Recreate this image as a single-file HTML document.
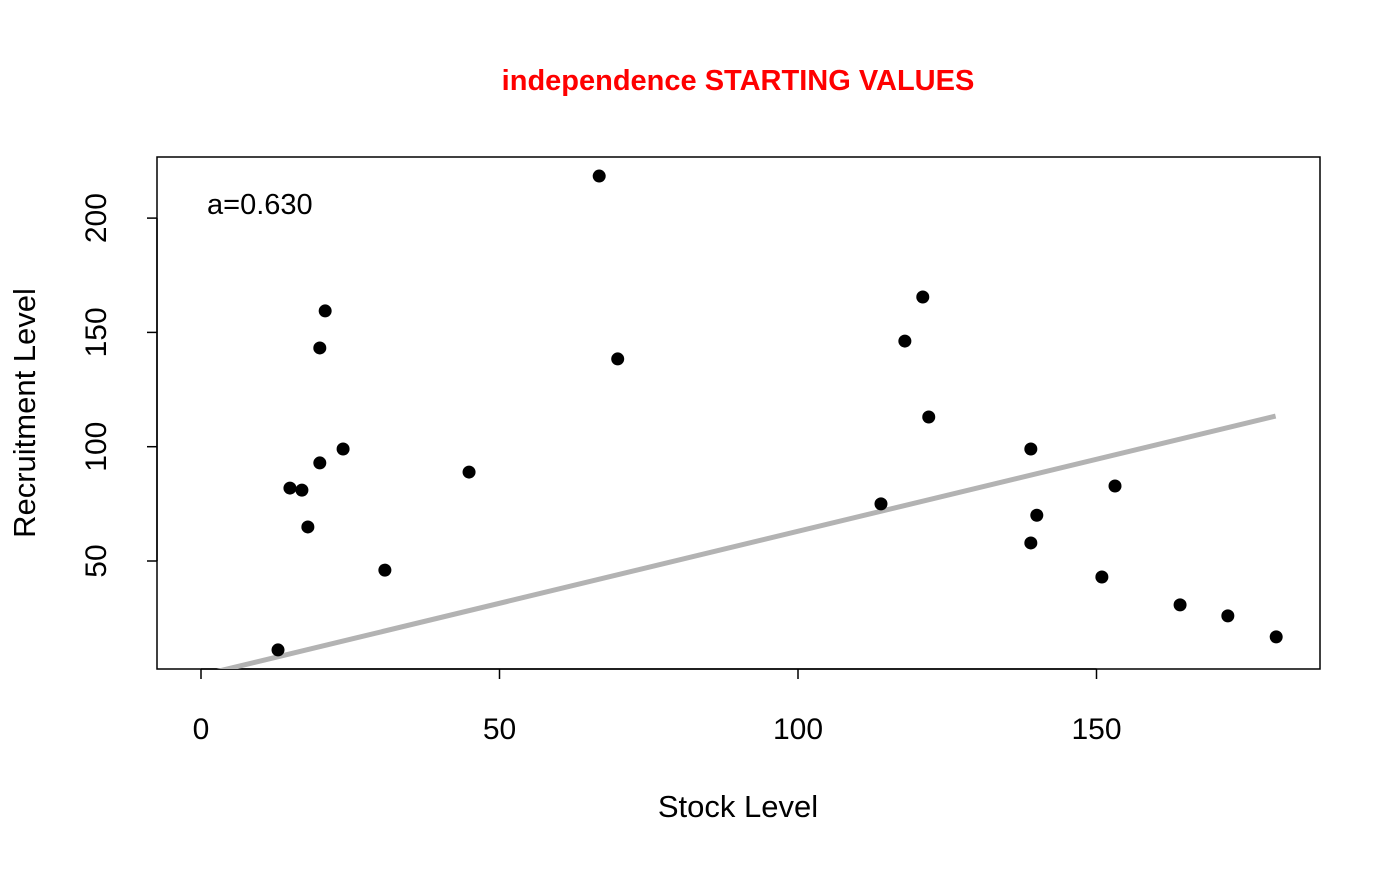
<!DOCTYPE html>
<html><head><meta charset="utf-8"><style>
body{margin:0;background:#fff}
svg text{font-family:"Liberation Sans",Arial,sans-serif}
</style></head><body>
<svg id="chart" width="1400" height="866" xmlns="http://www.w3.org/2000/svg">
<defs><clipPath id="clip"><rect x="157" y="157" width="1163" height="512"/></clipPath></defs>
<text x="738" y="90" text-anchor="middle" font-size="29" font-weight="bold" fill="#ff0000">independence STARTING VALUES</text>
<rect x="157" y="157" width="1163" height="512" fill="none" stroke="#000" stroke-width="1.5"/>
<text x="207" y="214" font-size="29">a=0.630</text>
<text x="738" y="817" text-anchor="middle" font-size="31">Stock Level</text>
<text transform="translate(35,413) rotate(-90)" text-anchor="middle" font-size="31">Recruitment Level</text>
<g id="xaxis"></g>
<g id="yaxis"></g>
<g id="fit" clip-path="url(#clip)"></g>
<g id="pts"></g>
</svg>
<script>
const stock=[12.9,14.9,16.9,17.9,19.9,19.9,20.8,23.8,30.8,44.9,66.7,69.8,113.9,117.9,120.9,121.9,139,139,140,150.9,153.1,164,172,180.1];
const recruit=[11.1,81.9,81,64.9,92.9,143.2,159.4,99,46,88.9,218.4,138.4,75,146.2,165.5,113,99,57.9,70,43,82.8,30.8,26,16.8];
const xTicks=[0,50,100,150];
const yTicks=[50,100,150,200];
const slopeA=0.63;
const fitRange=[0,180];
const NS="http://www.w3.org/2000/svg";
const X=v=>201+v*5.97;
const Y=v=>561-(v-50)*2.286;
function mk(t,a,p){const e=document.createElementNS(NS,t);for(const k in a)e.setAttribute(k,a[k]);p.appendChild(e);return e;}
const xa=document.getElementById('xaxis'),ya=document.getElementById('yaxis');
mk('line',{x1:X(xTicks[0]),x2:X(xTicks[xTicks.length-1]),y1:669,y2:669,stroke:'#000','stroke-width':1.5},xa);
xTicks.forEach(t=>{
 const l=mk('line',{x1:X(t),x2:X(t),y1:669,y2:679,stroke:'#000','stroke-width':1.5},xa);
 
 
 const tx=mk('text',{x:X(t),y:739,'text-anchor':'middle','font-size':30},xa);tx.textContent=t;
 
 
});
mk('line',{x1:157,x2:157,y1:Y(yTicks[0]),y2:Y(yTicks[yTicks.length-1]),stroke:'#000','stroke-width':1.5},ya);
yTicks.forEach(t=>{
 const l=mk('line',{x1:147,x2:157,y1:Y(t),y2:Y(t),stroke:'#000','stroke-width':1.5},ya);
 
 
 const tx=mk('text',{transform:`translate(106,${Y(t)}) rotate(-90)`,'text-anchor':'middle','font-size':30},ya);tx.textContent=t;
 
 
});
const fl=mk('line',{x1:X(fitRange[0]),y1:Y(slopeA*fitRange[0]),x2:X(fitRange[1]),y2:Y(slopeA*fitRange[1]),stroke:'#b3b3b3','stroke-width':5},document.getElementById('fit'));


const pg=document.getElementById('pts');
stock.forEach((s,i)=>{
 const c=mk('circle',{cx:X(s),cy:Y(recruit[i]),r:6.5,fill:'#000'},pg);
 
 
});
</script>
</body></html>
